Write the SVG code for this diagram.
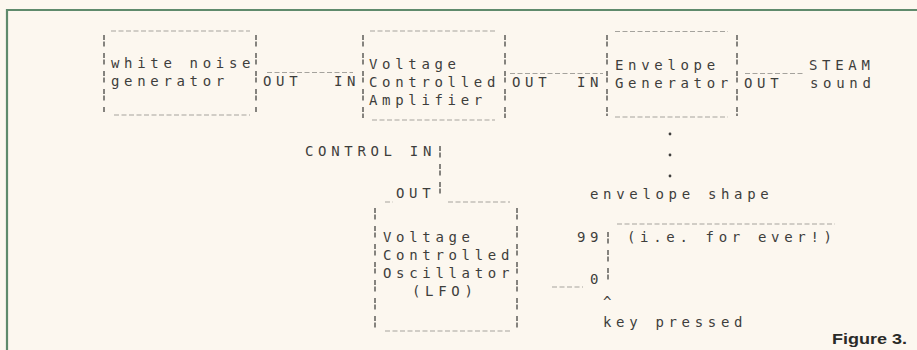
<svg xmlns="http://www.w3.org/2000/svg" width="917" height="350" viewBox="0 0 917 350">
  <style>
    .t { font-family: "DejaVu Sans Mono", "Liberation Mono", monospace; font-size: 14px; letter-spacing: 4.67px; fill: #3e3e3c; }
    .dash { stroke: #a5a39d; stroke-width: 1.1; stroke-dasharray: 5 2.5; fill: none; }
    .bar { stroke: #5e5e5a; stroke-width: 1.5; stroke-dasharray: 5 1.5 5 6.5; fill: none; }
    .dot { fill: #3e3e3c; }
    .frame { stroke: #5f8a6c; stroke-width: 2.2; fill: none; }
    .cap { font-family: "Liberation Sans", Arial, sans-serif; font-weight: bold; font-size: 15.5px; fill: #2a2a28; }
  </style>
  <rect x="0" y="0" width="917" height="350" fill="#fcf7ef"/>
  <g id="frame">
    <path class="frame" d="M7,350 V10 H917"/>
  </g>

  <g id="white-noise-generator">
    <line class="dash" x1="111" y1="31" x2="250" y2="31"/>
    <line class="dash" x1="114" y1="115" x2="250" y2="115"/>
    <line class="bar" x1="104" y1="35" x2="104" y2="112"/>
    <line class="bar" x1="256" y1="35" x2="256" y2="112"/>
    <text class="t" x="111" y="68">white noise</text>
    <text class="t" x="111" y="86">generator</text>
  </g>

  <g id="vca">
    <line class="dash" x1="370" y1="31" x2="497" y2="31"/>
    <line class="dash" x1="372" y1="120" x2="495" y2="120"/>
    <line class="bar" x1="363" y1="35" x2="363" y2="118"/>
    <line class="bar" x1="505" y1="35" x2="505" y2="118"/>
    <text class="t" x="369" y="69">Voltage</text>
    <text class="t" x="369" y="87">Controlled</text>
    <text class="t" x="369" y="105">Amplifier</text>
  </g>

  <g id="envelope-generator">
    <line class="dash" x1="615" y1="31.5" x2="728" y2="31.5"/>
    <line class="dash" x1="615" y1="117" x2="728" y2="117"/>
    <line class="bar" x1="607" y1="35" x2="607" y2="116"/>
    <line class="bar" x1="737" y1="35" x2="737" y2="116"/>
    <text class="t" x="615" y="70">Envelope</text>
    <text class="t" x="615" y="88">Generator</text>
  </g>

  <g id="steam-sound">
    <text class="t" x="809" y="70">STEAM</text>
    <text class="t" x="810" y="88">sound</text>
  </g>

  <g id="lfo">
    <line class="dash" x1="385" y1="202" x2="393" y2="202"/>
    <line class="dash" x1="448" y1="202" x2="510" y2="202"/>
    <line class="dash" x1="385" y1="331" x2="510" y2="331"/>
    <line class="bar" x1="375" y1="208" x2="375" y2="333"/>
    <line class="bar" x1="517" y1="208" x2="517" y2="333"/>
    <text class="t" x="396" y="198">OUT</text>
    <text class="t" x="383" y="242">Voltage</text>
    <text class="t" x="383" y="260">Controlled</text>
    <text class="t" x="383" y="278">Oscillator</text>
    <text class="t" x="412" y="296">(LFO)</text>
  </g>

  <g id="connectors">
    <line class="dash" x1="267" y1="72.5" x2="353" y2="72.5"/>
    <text class="t" x="263" y="86">OUT</text>
    <text class="t" x="334" y="86">IN</text>
    <line class="dash" x1="510" y1="73.5" x2="603" y2="73.5"/>
    <text class="t" x="512" y="87">OUT</text>
    <text class="t" x="577" y="87">IN</text>
    <line class="dash" x1="745" y1="73.5" x2="803" y2="73.5"/>
    <text class="t" x="744" y="88">OUT</text>
    <text class="t" x="305" y="156">CONTROL IN</text>
    <line class="bar" x1="440" y1="146" x2="440" y2="200"/>
  </g>

  <g id="envelope-shape">
    <circle class="dot" cx="670" cy="134" r="1.4"/>
    <circle class="dot" cx="670" cy="155" r="1.4"/>
    <circle class="dot" cx="670" cy="176" r="1.4"/>
    <text class="t" x="590" y="199">envelope shape</text>
    <line class="dash" x1="617" y1="224" x2="835" y2="224"/>
    <text class="t" x="577" y="242">99</text>
    <text class="t" x="627" y="242">(i.e. for ever!)</text>
    <line class="bar" x1="608" y1="232" x2="608" y2="286"/>
    <line class="dash" x1="552" y1="287" x2="583" y2="287"/>
    <text class="t" x="590" y="284">0</text>
    <text class="t" x="603" y="307">^</text>
    <text class="t" x="603" y="327">key pressed</text>
  </g>

  <g id="caption">
    <text class="cap" x="832" y="344" textLength="75" lengthAdjust="spacingAndGlyphs">Figure 3.</text>
  </g>
</svg>
